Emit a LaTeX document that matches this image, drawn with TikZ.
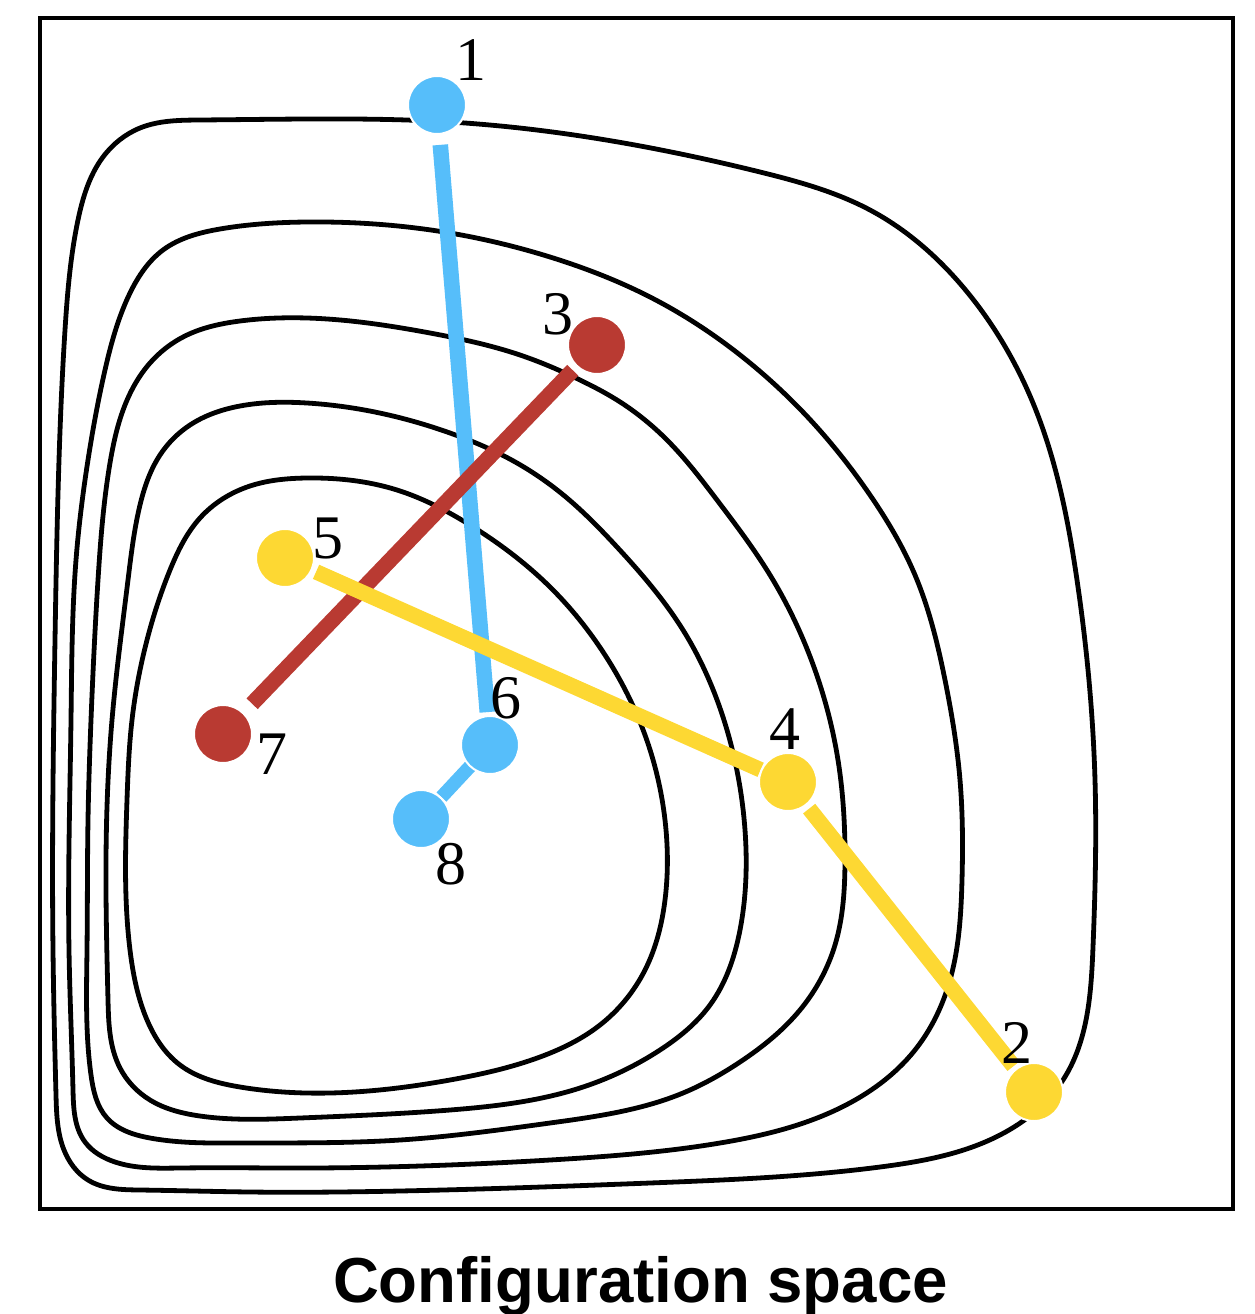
\documentclass[tikz,border=0pt]{standalone}
\usepackage{fontspec}
\usetikzlibrary{hobby}
\setmainfont{Liberation Serif}
\newfontfamily\titlefont{Liberation Sans}
\definecolor{cblue}{RGB}{86,190,250}
\definecolor{cred}{RGB}{185,58,50}
\definecolor{cyellow}{RGB}{253,216,51}
\pgfdeclarelayer{bg}
\pgfsetlayers{bg,main}
\begin{document}
\begin{tikzpicture}[x=1pt,y=-1pt,
  contour/.style={line width=4.8pt, black},
  dot/.style={circle, minimum size=58pt, inner sep=0pt, draw=white, line width=2pt},
  num/.style={font=\fontsize{62}{62}\selectfont, inner sep=0pt},
  link/.style={line width=15.5pt}]
\useasboundingbox (0,0) rectangle (1255,1314);
% dots
\node[dot, fill=cblue]   (n1) at (437,105) {};
\node[dot, fill=cyellow] (n2) at (1034,1092) {};
\node[dot, fill=cred]    (n3) at (597,345) {};
\node[dot, fill=cyellow] (n4) at (788,782) {};
\node[dot, fill=cyellow] (n5) at (285,558) {};
\node[dot, fill=cblue]   (n6) at (490,745) {};
\node[dot, fill=cred]    (n7) at (223,734) {};
\node[dot, fill=cblue]   (n8) at (421,819) {};
% labels
\node[num] (l1) at (471,60) {1};
\node[num] (l2) at (1017,1043) {2};
\node[num] (l3) at (558,314) {3};
\node[num] (l4) at (785,729) {4};
\node[num] (l5) at (328,538) {5};
\node[num] (l6) at (506,698) {6};
\node[num] (l7) at (272,754) {7};
\node[num] (l8) at (451,864) {8};
% title
\node[font=\titlefont\bfseries\fontsize{63.6}{70}\selectfont, anchor=base, inner sep=0pt] (title) at (640.5,1302) {Configuration space};
\begin{pgfonlayer}{bg}
\draw[line width=4pt] (40,18) rectangle (1233,1209);
% contours
\draw[contour] plot[closed hobby] coordinates {(307,119) (450,122) (600,139) (760,172) (870,210) (963,287) (1037,413) (1077,580) (1095,780) (1093,947) (1063,1080) (1000,1135) (880,1167) (650,1183) (400,1191) (250,1192) (140,1190) (88,1180) (64,1150) (56,1095) (53,950) (55,640) (59,460) (65,330) (78,220) (103,157) (140,128) (200,120)};
\draw[contour] plot[closed hobby] coordinates {(307,222) (450,233) (550,257) (650,297) (750,363) (815,425) (870,495) (915,575) (945,680) (960,780) (962,880) (950,980) (915,1050) (840,1108) (720,1143) (550,1160) (307,1168) (180,1168) (115,1162) (85,1142) (73,1090) (69,950) (71,720) (76,560) (88,460) (105,370) (130,293) (163,250) (220,229)};
\draw[contour] plot[closed hobby] coordinates {(307,318) (430,333) (520,355) (580,380) (617,400) (667,440) (717,500) (770,575) (815,670) (838,760) (845,860) (835,945) (800,1010) (740,1062) (683,1093) (550,1123) (400,1140) (240,1143) (150,1138) (107,1118) (91,1075) (87,950) (88,820) (91,720) (98,580) (110,463) (125,405) (150,363) (185,336) (240,321)};
\draw[contour] plot[closed hobby] coordinates {(307,403) (450,433) (517,463) (567,498) (617,547) (683,630) (727,730) (745,830) (740,930) (710,1005) (660,1050) (580,1088) (450,1110) (300,1118) (200,1116) (150,1100) (120,1068) (108,1000) (106,860) (112,720) (128,580) (140,505) (160,455) (190,425) (240,406)};
\draw[contour] plot[closed hobby] coordinates {(307,478) (397,490) (470,525) (550,587) (605,655) (645,735) (665,820) (665,900) (645,970) (600,1025) (540,1057) (450,1080) (330,1093) (240,1087) (180,1065) (145,1015) (130,950) (127,800) (132,720) (147,640) (170,570) (200,518) (250,486)};
% connectors
\draw[link, cblue, shorten <=10pt, shorten >=3pt] (n1) -- (n6);
\draw[link, line width=13.5pt, cblue, shorten <=-9pt, shorten >=0pt] (n6) -- (n8);
\draw[link, cred, shorten <=5pt, shorten >=12pt] (n3) -- (n7);
\draw[link, cyellow, shorten <=4pt, shorten >=0pt] (n5) -- (n4);
\draw[link, cyellow, shorten <=4pt, shorten >=3pt] (n4) -- (n2);
\end{pgfonlayer}
\end{tikzpicture}
\end{document}
